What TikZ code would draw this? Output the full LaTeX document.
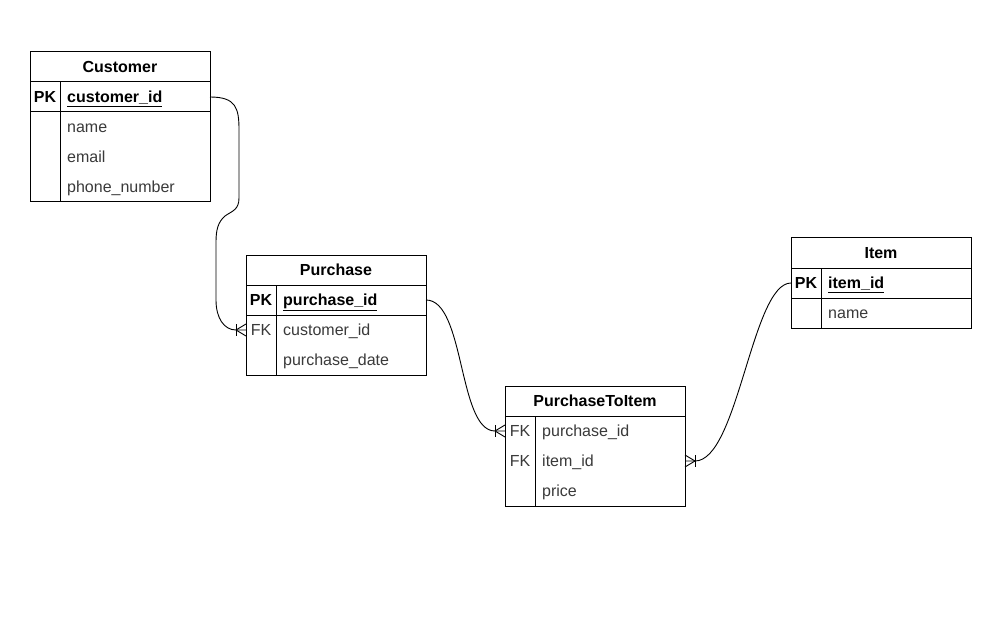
\documentclass[tikz,border=0pt]{standalone}
\usepackage{fontspec}
\setmainfont{Liberation Sans}
\definecolor{fieldgray}{RGB}{58,58,58}
\begin{document}
\begin{tikzpicture}[x=1pt,y=-1pt,
  tbl/.style={draw=black, line width=1pt, rectangle, minimum width=180pt, inner sep=0pt},
  tline/.style={draw=black, line width=1pt},
  hdr/.style={font=\bfseries\fontsize{16}{19}\selectfont, anchor=base, inner sep=0pt},
  keyb/.style={font=\bfseries\fontsize{16}{19}\selectfont, anchor=base, inner sep=0pt},
  keyn/.style={font=\fontsize{16}{19}\selectfont, text=fieldgray, anchor=base, inner sep=0pt},
  pkf/.style={font=\bfseries\fontsize{16}{19}\selectfont, anchor=base west, inner sep=0pt},
  fld/.style={font=\fontsize{16}{19}\selectfont, text=fieldgray, anchor=base west, inner sep=0pt},
  conn/.style={draw=black, line width=0.9pt},
  crow/.style={draw=black, line width=0.9pt}
]
\useasboundingbox (0,0) rectangle (984,628);
\fill[white] (0,0) rectangle (984,628);

% Customer
\node[tbl, minimum height=150pt] (cust) at (120,127) {};
\draw[tline] (30,82) -- (210,82);
\draw[tline] (30,112) -- (210,112);
\draw[tline] (60,82) -- (60,202);
\node[hdr] (custh) at (120,72.5) {Customer};
\node[keyb] (custpk) at (45,102.5) {PK};
\node[pkf] (custid) at (67,102.5) {\underline{customer\_id}};
\node[fld] (custname) at (67,132.5) {name};
\node[fld] (custemail) at (67,162.5) {email};
\node[fld] (custphone) at (67,192.5) {phone\_number};

% Purchase
\node[tbl, minimum height=120pt] (pur) at (336,315) {};
\draw[tline] (246,285) -- (426,285);
\draw[tline] (246,315) -- (426,315);
\draw[tline] (276,285) -- (276,375);
\node[hdr] (purh) at (336,275.5) {Purchase};
\node[keyb] (purpk) at (261,305.5) {PK};
\node[pkf] (purid) at (283,305.5) {\underline{purchase\_id}};
\node[keyn] (purfk) at (261,335.5) {FK};
\node[fld] (purcust) at (283,335.5) {customer\_id};
\node[fld] (purdate) at (283,365.5) {purchase\_date};

% PurchaseToItem
\node[tbl, minimum height=120pt] (pti) at (595,446) {};
\draw[tline] (505,416) -- (685,416);
\draw[tline] (535,416) -- (535,506);
\node[hdr] (ptih) at (595,406.5) {PurchaseToItem};
\node[keyn] (ptifk1) at (520,436.5) {FK};
\node[fld] (ptipur) at (542,436.5) {purchase\_id};
\node[keyn] (ptifk2) at (520,466.5) {FK};
\node[fld] (ptiitem) at (542,466.5) {item\_id};
\node[fld] (ptiprice) at (542,496.5) {price};

% Item
\node[tbl, minimum height=90pt] (item) at (881,283) {};
\draw[tline] (791,268) -- (971,268);
\draw[tline] (791,298) -- (971,298);
\draw[tline] (821,268) -- (821,328);
\node[hdr] (itemh) at (881,258.5) {Item};
\node[keyb] (itempk) at (806,288.5) {PK};
\node[pkf] (itemid) at (828,288.5) {\underline{item\_id}};
\node[fld] (itemname) at (828,318.5) {name};

% connector end points
\coordinate (c1s) at (210,97);
\coordinate (c1e) at (246,330);
\coordinate (c2s) at (426,300);
\coordinate (c2e) at (505,431);
\coordinate (c3s) at (791,283);
\coordinate (c3e) at (685,461);

% connectors
\draw[conn] (c1s) .. controls (236,97) and (239,108) .. (239,130) -- (239,198)
  .. controls (239,210) and (232,211) .. (225,216)
  .. controls (218,222) and (216,230) .. (216,242) -- (216,300)
  .. controls (216,318) and (224,330) .. (236,330) -- (c1e);
\draw[conn] (c2s) .. controls (465,300) and (458,431) .. (495,431) -- (c2e);
\draw[conn] (c3s) .. controls (752,283) and (738,461) .. (695,461) -- (c3e);

% crow's feet (one-to-many)
\draw[crow] ([shift={(-10,0)}]c1e) -- ([shift={(0,-6)}]c1e);
\draw[crow] ([shift={(-10,0)}]c1e) -- ([shift={(0,6)}]c1e);
\draw[crow] ([shift={(-10,-6)}]c1e) -- ([shift={(-10,6)}]c1e);

\draw[crow] ([shift={(-10,0)}]c2e) -- ([shift={(0,-6)}]c2e);
\draw[crow] ([shift={(-10,0)}]c2e) -- ([shift={(0,6)}]c2e);
\draw[crow] ([shift={(-10,-6)}]c2e) -- ([shift={(-10,6)}]c2e);

\draw[crow] ([shift={(10,0)}]c3e) -- ([shift={(0,-6)}]c3e);
\draw[crow] ([shift={(10,0)}]c3e) -- ([shift={(0,6)}]c3e);
\draw[crow] ([shift={(10,-6)}]c3e) -- ([shift={(10,6)}]c3e);
\end{tikzpicture}
\end{document}
